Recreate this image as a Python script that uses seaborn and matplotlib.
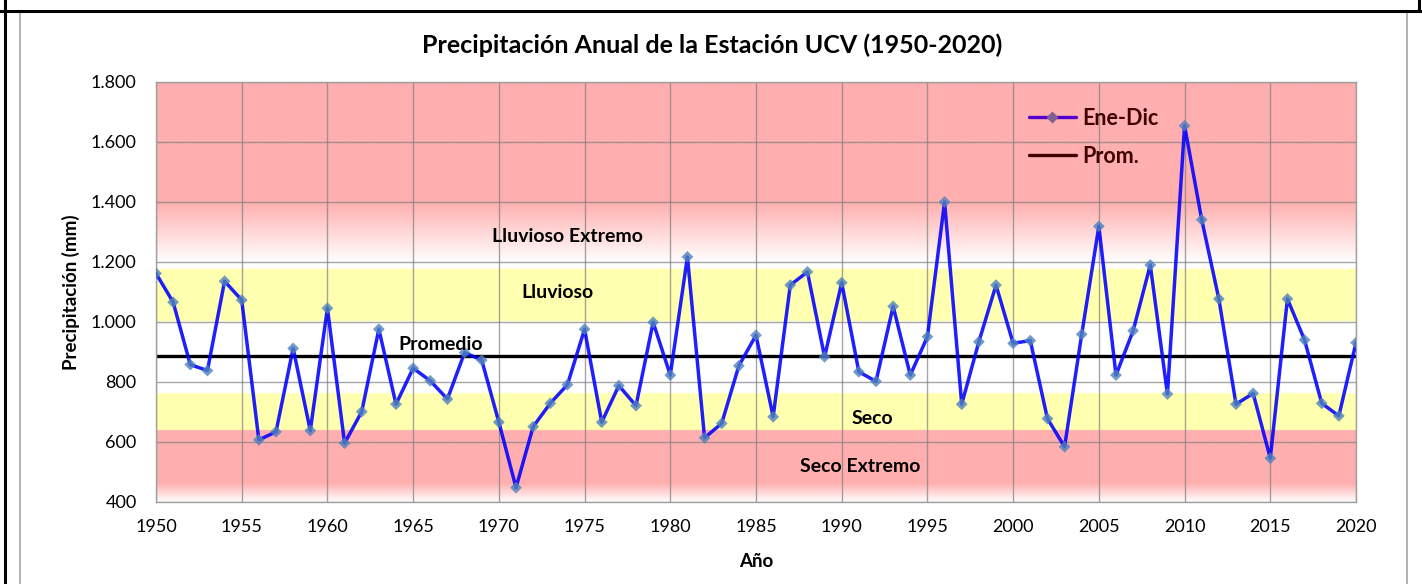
import matplotlib
matplotlib.use("Agg")
import matplotlib.pyplot as plt
from matplotlib.lines import Line2D
from matplotlib.ticker import FuncFormatter, MultipleLocator
import numpy as np
import pandas as pd
import seaborn as sns

# datos
anios = list(range(1950, 2021))
precip = [1162, 1066, 858, 838, 1136, 1073, 607, 634, 912, 638,
          1046, 596, 701, 976, 726, 846, 804, 743, 898, 873,
          666, 448, 651, 729, 791, 976, 666, 788, 721, 999,
          823, 1217, 614, 662, 854, 956, 684, 1123, 1167, 884,
          1131, 834, 802, 1052, 823, 951, 1400, 726, 934, 1123,
          929, 938, 678, 584, 959, 1319, 823, 971, 1190, 760,
          1654, 1341, 1077, 726, 762, 546, 1077, 940, 729, 687,
          931]
promedio = 887

etiquetas = ["Lluvioso Extremo", "Lluvioso", "Promedio", "Seco", "Seco Extremo"]
etiq_x = [1974.0, 1973.4, 1966.6, 1991.8, 1991.1]
etiq_y = [1285, 1100, 925, 680, 517]

df = pd.DataFrame({"anio": anios, "pp": precip})

sns.set_style("white")
plt.rcParams["font.family"] = ["Lato", "DejaVu Sans"]
plt.rcParams["text.color"] = "black"
plt.rcParams["axes.labelcolor"] = "black"
plt.rcParams["xtick.color"] = "black"
plt.rcParams["ytick.color"] = "black"

ROJO = np.array([255, 175, 175]) / 255
AMAR = np.array([255, 255, 176]) / 255
BLAN = np.array([1.0, 1.0, 1.0])


def color_fondo(v):
    if v >= 1400:
        return ROJO
    if v >= 1200:
        t = (v - 1200) / 200
        return BLAN * (1 - t) + ROJO * t
    if v > 1177:
        return BLAN
    if v >= 1003:
        return AMAR
    if v > 763:
        return BLAN
    if v >= 640:
        return AMAR
    if v >= 463:
        return ROJO
    t = (v - 400) / 63
    return BLAN * (1 - t) + ROJO * t


fig = plt.figure(figsize=(14.22, 5.84), dpi=100)

# marcos del recorte original
fig.add_artist(Line2D([0, 1], [1 - 11 / 584] * 2, color="black", lw=2.2, transform=fig.transFigure))
fig.add_artist(Line2D([5 / 1422] * 2, [0, 1], color="black", lw=2.2, transform=fig.transFigure))
fig.add_artist(Line2D([1419 / 1422] * 2, [1, 1 - 11 / 584], color="black", lw=2.2, transform=fig.transFigure))
fig.add_artist(plt.Rectangle((20 / 1422, -0.01), 1387 / 1422, 1 - 12 / 584 + 0.01, fill=False,
                             edgecolor="#a6a6a6", lw=1.2, transform=fig.transFigure))

ax = fig.add_axes([156 / 1422, 1 - 502 / 584, 1200 / 1422, 420 / 584])

ys = np.linspace(1800, 400, 1400)
img = np.array([color_fondo(v) for v in ys])[:, None, :]
ax.imshow(img, extent=[1950, 2020, 400, 1800], aspect="auto", zorder=0, interpolation="bilinear")

ax.axhline(promedio, color="black", lw=2.4, zorder=2)
sns.lineplot(data=df, x="anio", y="pp", ax=ax, color="#0000ff", lw=2.5, alpha=0.88, zorder=3)
sns.scatterplot(data=df, x="anio", y="pp", ax=ax, marker="D", s=36, color="#4f81bd",
                alpha=0.8, edgecolor="none", zorder=4)

for t, x, y in zip(etiquetas, etiq_x, etiq_y):
    ax.text(x, y, t, ha="center", va="center", fontsize=14, fontweight="bold", color="black", zorder=5)

ax.set_xlim(1950, 2020)
ax.set_ylim(400, 1800)
ax.xaxis.set_major_locator(MultipleLocator(5))
ax.yaxis.set_major_locator(MultipleLocator(200))
ax.yaxis.set_major_formatter(FuncFormatter(lambda v, p: f"{int(v):,}".replace(",", ".")))
ax.grid(True, color="#7f7f7f", alpha=0.7, lw=1)
ax.tick_params(length=0, labelsize=13, labelcolor="black")
ax.tick_params(axis="y", pad=14)
ax.tick_params(axis="x", pad=12)
for s in ax.spines.values():
    s.set_color("#a0a0a0")
    s.set_linewidth(1)

ax.set_xlabel("Año", fontsize=13.5, fontweight="bold", labelpad=13)
ax.set_ylabel("Precipitación (mm)", fontsize=13.5, fontweight="bold", labelpad=8)

fig.text(0.501, 1 - 45 / 584, "Precipitación Anual de la Estación UCV (1950-2020)",
         ha="center", va="center", fontsize=18, fontweight="bold", color="black")

handles = [Line2D([], [], color="#5000d0", lw=2.4, marker="D", ms=6,
                  markerfacecolor="#806090", markeredgecolor="none"),
           Line2D([], [], color="#400000", lw=2.4)]
leg = ax.legend(handles, ["Ene-Dic", "Prom."], loc="upper left", bbox_to_anchor=(0.711, 0.985),
                frameon=False, handlelength=2.2, handletextpad=0.3, labelspacing=0.8,
                prop={"size": 15.5, "weight": "bold"})
for t in leg.get_texts():
    t.set_color("#400000")

fig.savefig("out.png", dpi=100)
